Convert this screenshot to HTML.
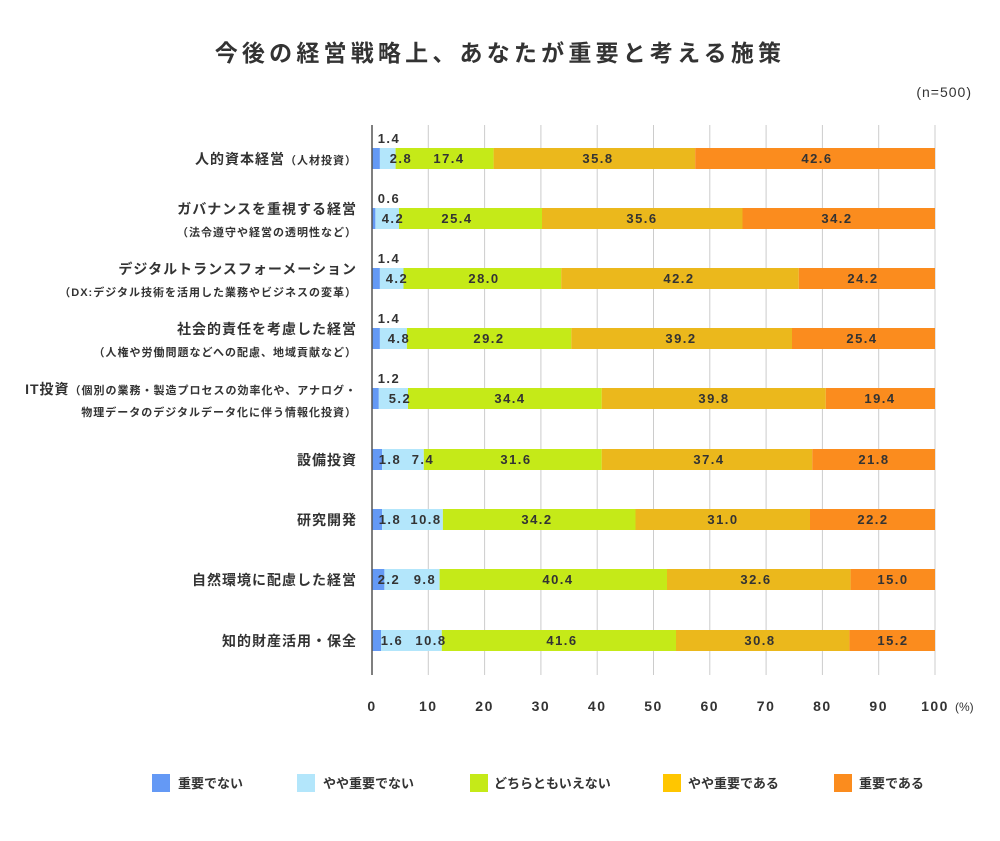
<!DOCTYPE html><html><head><meta charset="utf-8"><style>body{margin:0;background:#fff}svg{display:block;font-family:"Liberation Sans","Noto Sans CJK JP",sans-serif}</style></head><body>
<svg width="1000" height="841" xmlns="http://www.w3.org/2000/svg">
<text x="500" y="61" text-anchor="middle" font-size="23" font-weight="bold" fill="#333" letter-spacing="4.2">今後の経営戦略上、あなたが重要と考える施策</text>
<text x="972" y="97" text-anchor="end" font-size="14" fill="#333" letter-spacing="1">(n=500)</text>
<g stroke="#ccc" stroke-width="1">
<line x1="428.3" y1="125" x2="428.3" y2="675"/><line x1="484.6" y1="125" x2="484.6" y2="675"/><line x1="540.9" y1="125" x2="540.9" y2="675"/><line x1="597.2" y1="125" x2="597.2" y2="675"/><line x1="653.5" y1="125" x2="653.5" y2="675"/><line x1="709.8" y1="125" x2="709.8" y2="675"/><line x1="766.1" y1="125" x2="766.1" y2="675"/><line x1="822.4" y1="125" x2="822.4" y2="675"/><line x1="878.7" y1="125" x2="878.7" y2="675"/><line x1="935" y1="125" x2="935" y2="675"/>
</g>
<g>
<rect x="372" y="148" width="7.9" height="21" fill="#6499f5"/><rect x="379.9" y="148" width="15.7" height="21" fill="#b3e6fb"/><rect x="395.6" y="148" width="98" height="21" fill="#c5ea18"/><rect x="493.6" y="148" width="201.6" height="21" fill="#ebb81c"/><rect x="695.2" y="148" width="239.8" height="21" fill="#fb8c1e"/>
<rect x="372" y="208" width="3.4" height="21" fill="#6499f5"/><rect x="375.4" y="208" width="23.6" height="21" fill="#b3e6fb"/><rect x="399" y="208" width="143" height="21" fill="#c5ea18"/><rect x="542" y="208" width="200.5" height="21" fill="#ebb81c"/><rect x="742.5" y="208" width="192.5" height="21" fill="#fb8c1e"/>
<rect x="372" y="268" width="7.9" height="21" fill="#6499f5"/><rect x="379.9" y="268" width="23.6" height="21" fill="#b3e6fb"/><rect x="403.5" y="268" width="157.7" height="21" fill="#c5ea18"/><rect x="561.2" y="268" width="237.6" height="21" fill="#ebb81c"/><rect x="798.8" y="268" width="136.2" height="21" fill="#fb8c1e"/>
<rect x="372" y="328" width="7.9" height="21" fill="#6499f5"/><rect x="379.9" y="328" width="27" height="21" fill="#b3e6fb"/><rect x="406.9" y="328" width="164.4" height="21" fill="#c5ea18"/><rect x="571.3" y="328" width="220.7" height="21" fill="#ebb81c"/><rect x="792" y="328" width="143" height="21" fill="#fb8c1e"/>
<rect x="372" y="388" width="6.8" height="21" fill="#6499f5"/><rect x="378.8" y="388" width="29.2" height="21" fill="#b3e6fb"/><rect x="408" y="388" width="193.7" height="21" fill="#c5ea18"/><rect x="601.7" y="388" width="224.1" height="21" fill="#ebb81c"/><rect x="825.8" y="388" width="109.2" height="21" fill="#fb8c1e"/>
<rect x="372" y="449" width="10.1" height="21" fill="#6499f5"/><rect x="382.1" y="449" width="41.7" height="21" fill="#b3e6fb"/><rect x="423.8" y="449" width="177.9" height="21" fill="#c5ea18"/><rect x="601.7" y="449" width="210.6" height="21" fill="#ebb81c"/><rect x="812.3" y="449" width="122.7" height="21" fill="#fb8c1e"/>
<rect x="372" y="509" width="10.1" height="21" fill="#6499f5"/><rect x="382.1" y="509" width="60.8" height="21" fill="#b3e6fb"/><rect x="442.9" y="509" width="192.6" height="21" fill="#c5ea18"/><rect x="635.5" y="509" width="174.5" height="21" fill="#ebb81c"/><rect x="810" y="509" width="125" height="21" fill="#fb8c1e"/>
<rect x="372" y="569" width="12.4" height="21" fill="#6499f5"/><rect x="384.4" y="569" width="55.2" height="21" fill="#b3e6fb"/><rect x="439.6" y="569" width="227.4" height="21" fill="#c5ea18"/><rect x="667" y="569" width="183.6" height="21" fill="#ebb81c"/><rect x="850.6" y="569" width="84.4" height="21" fill="#fb8c1e"/>
<rect x="372" y="630" width="9" height="21" fill="#6499f5"/><rect x="381" y="630" width="60.8" height="21" fill="#b3e6fb"/><rect x="441.8" y="630" width="234.2" height="21" fill="#c5ea18"/><rect x="676" y="630" width="173.4" height="21" fill="#ebb81c"/><rect x="849.4" y="630" width="85.6" height="21" fill="#fb8c1e"/>
</g>
<line x1="372" y1="125" x2="372" y2="675" stroke="#555" stroke-width="1.5"/>
<g font-size="13" font-weight="bold" fill="#333" text-anchor="middle" letter-spacing="1.5">
<text x="389" y="143">1.4</text><text x="389" y="203">0.6</text><text x="389" y="263">1.4</text><text x="389" y="323">1.4</text><text x="389" y="383">1.2</text>
<text x="401" y="163">2.8</text><text x="449" y="163">17.4</text><text x="598" y="163">35.8</text><text x="817" y="163">42.6</text>
<text x="393" y="223">4.2</text><text x="457" y="223">25.4</text><text x="642" y="223">35.6</text><text x="837" y="223">34.2</text>
<text x="397" y="283">4.2</text><text x="484" y="283">28.0</text><text x="679" y="283">42.2</text><text x="863" y="283">24.2</text>
<text x="399" y="343">4.8</text><text x="489" y="343">29.2</text><text x="681" y="343">39.2</text><text x="862" y="343">25.4</text>
<text x="400" y="403">5.2</text><text x="510" y="403">34.4</text><text x="714" y="403">39.8</text><text x="880" y="403">19.4</text>
<text x="390" y="464">1.8</text><text x="423" y="464">7.4</text><text x="516" y="464">31.6</text><text x="709" y="464">37.4</text><text x="874" y="464">21.8</text>
<text x="390" y="524">1.8</text><text x="426" y="524">10.8</text><text x="537" y="524">34.2</text><text x="723" y="524">31.0</text><text x="873" y="524">22.2</text>
<text x="389" y="584">2.2</text><text x="425" y="584">9.8</text><text x="558" y="584">40.4</text><text x="756" y="584">32.6</text><text x="893" y="584">15.0</text>
<text x="392" y="645">1.6</text><text x="431" y="645">10.8</text><text x="562" y="645">41.6</text><text x="760" y="645">30.8</text><text x="893" y="645">15.2</text>
</g>
<g font-size="14" font-weight="bold" fill="#333" text-anchor="middle" letter-spacing="1.5">
<text x="372" y="711">0</text><text x="428.3" y="711">10</text><text x="484.6" y="711">20</text><text x="540.9" y="711">30</text><text x="597.2" y="711">40</text><text x="653.5" y="711">50</text><text x="709.8" y="711">60</text><text x="766.1" y="711">70</text><text x="822.4" y="711">80</text><text x="878.7" y="711">90</text><text x="935" y="711">100</text>
</g>
<text x="955" y="711" font-size="12" fill="#333">(%)</text>
<g font-size="14" font-weight="bold" fill="#333" text-anchor="end" letter-spacing="1">
<text x="357" y="164">人的資本経営<tspan font-size="11">（人材投資）</tspan></text>
<text x="357" y="214">ガバナンスを重視する経営</text>
<text x="357" y="236" font-size="11">（法令遵守や経営の透明性など）</text>
<text x="357" y="274">デジタルトランスフォーメーション</text>
<text x="357" y="296" font-size="11">（DX:デジタル技術を活用した業務やビジネスの変革）</text>
<text x="357" y="334">社会的責任を考慮した経営</text>
<text x="357" y="356" font-size="11">（人権や労働問題などへの配慮、地域貢献など）</text>
<text x="357" y="394">IT投資<tspan font-size="11">（個別の業務・製造プロセスの効率化や、アナログ・</tspan></text>
<text x="357" y="416" font-size="11">物理データのデジタルデータ化に伴う情報化投資）</text>
<text x="357" y="465">設備投資</text>
<text x="357" y="525">研究開発</text>
<text x="357" y="585">自然環境に配慮した経営</text>
<text x="357" y="646">知的財産活用・保全</text>
</g>
<g font-size="13" font-weight="bold" fill="#333">
<rect x="152" y="774" width="18" height="18" fill="#6499f5"/><text x="178" y="788">重要でない</text>
<rect x="297" y="774" width="18" height="18" fill="#b3e6fb"/><text x="323" y="788">やや重要でない</text>
<rect x="470" y="774" width="18" height="18" fill="#c5ea18"/><text x="494" y="788">どちらともいえない</text>
<rect x="663" y="774" width="18" height="18" fill="#ffc600"/><text x="688" y="788">やや重要である</text>
<rect x="834" y="774" width="18" height="18" fill="#fb8c1e"/><text x="859" y="788">重要である</text>
</g>
</svg></body></html>
